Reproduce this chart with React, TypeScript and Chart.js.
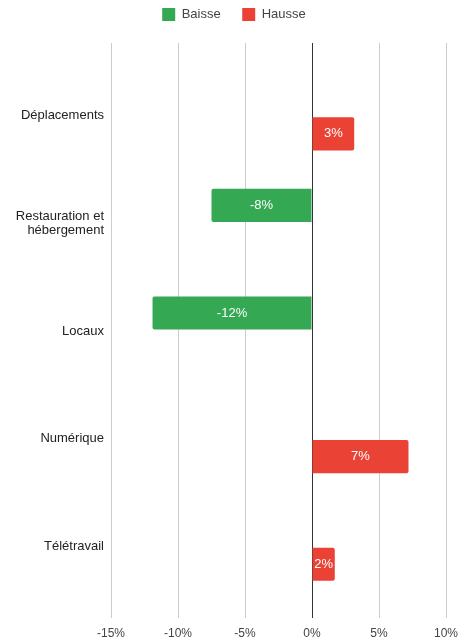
import React, { useEffect, useRef } from "react";
import { Chart, registerables } from "chart.js";

Chart.register(...registerables);

const categories: (string | string[])[] = [
  "Déplacements",
  ["Restauration et", "hébergement"],
  "Locaux",
  "Numérique",
  "Télétravail",
];
const baisse: (number | null)[] = [null, -7.5, -11.9, null, null];
const hausse: (number | null)[] = [3.15, null, null, 7.2, 1.7];
const xTicks = [-15, -10, -5, 0, 5, 10];

const GREEN = "#34a853";
const RED = "#ea4335";
const FONT = "'Liberation Sans', Arial, sans-serif";

const valueLabels = {
  id: "valueLabels",
  afterLayout(chart: any) {
    // widen the label clip area of the y axis so long labels are not cut
    const y = chart.scales.y;
    if (y) y.left = 0;
  },
  afterDatasetsDraw(chart: any) {
    const ctx = chart.ctx;
    ctx.save();
    ctx.font = `13px ${FONT}`;
    ctx.fillStyle = "#ffffff";
    ctx.textAlign = "center";
    ctx.textBaseline = "middle";
    chart.data.datasets.forEach((ds: any, di: number) => {
      const meta = chart.getDatasetMeta(di);
      meta.data.forEach((el: any, i: number) => {
        const v = ds.data[i];
        if (v === null || v === undefined) return;
        const txt = Number(v).toFixed(0) + "%";
        ctx.fillText(txt, (el.x + el.base) / 2, el.y);
      });
    });
    ctx.restore();
  },
};

export default function App() {
  const ref = useRef<HTMLCanvasElement>(null);

  useEffect(() => {
    if (!ref.current) return;
    const gridColor = (c: any) =>
      c.tick && c.tick.value === 0 ? "#333333" : "#cccccc";
    const chart = new Chart(ref.current, {
      type: "bar",
      data: {
        labels: categories,
        datasets: [
          {
            label: "Baisse",
            data: baisse,
            backgroundColor: GREEN,
            borderWidth: 0,
            borderRadius: 2,
            categoryPercentage: 0.67,
            barPercentage: 0.92,
          },
          {
            label: "Hausse",
            data: hausse,
            backgroundColor: RED,
            borderWidth: 0,
            borderRadius: 2,
            categoryPercentage: 0.67,
            barPercentage: 0.92,
          },
        ],
      },
      options: {
        indexAxis: "y",
        responsive: false,
        animation: false,
        layout: { padding: { top: -13.5, left: 22, right: 14, bottom: 0 } },
        plugins: {
          legend: {
            position: "top",
            labels: {
              boxWidth: 13,
              boxHeight: 13,
              padding: 21.5,
              color: "#444444",
              font: { family: FONT, size: 13 },
            },
          },
          tooltip: { enabled: false },
        },
        scales: {
          x: {
            type: "linear",
            position: "bottom",
            min: -15,
            max: 10,
            afterBuildTicks: (s: any) => {
              s.ticks = xTicks.map((v) => ({ value: v }));
            },
            afterFit: (s: any) => {
              s.height = 40;
              s.paddingLeft = 0;
              s.paddingRight = 0;
            },
            grid: {
              color: gridColor,
              lineWidth: 1,
              drawTicks: true,
              tickLength: 18,
            },
            border: { display: false },
            ticks: {
              padding: 8,
              color: "#444444",
              font: { family: FONT, size: 12 },
              callback: (v: any) => v + "%",
            },
          },
          x2: {
            type: "linear",
            position: "top",
            min: -15,
            max: 10,
            afterBuildTicks: (s: any) => {
              s.ticks = xTicks.map((v) => ({ value: v }));
            },
            afterFit: (s: any) => {
              s.height = 31;
              s.paddingLeft = 0;
              s.paddingRight = 0;
            },
            grid: {
              color: gridColor,
              lineWidth: 1,
              drawOnChartArea: false,
              drawTicks: true,
              tickLength: 19,
            },
            border: { display: false },
            ticks: { display: false },
          },
          y: {
            type: "category",
            afterFit: (s: any) => {
              s.width = 89;
            },
            grid: { display: false, drawTicks: false },
            border: { display: false },
            ticks: {
              padding: 7,
              color: "#222222",
              font: { family: FONT, size: 13, lineHeight: 1.1 },
            },
          },
        },
      },
      plugins: [valueLabels],
    } as any);
    return () => chart.destroy();
  }, []);

  return (
    <div style={{ position: "absolute", left: 0, top: 0, width: 460, height: 640 }}>
      <canvas ref={ref} width={460} height={640} style={{ display: "block" }} />
    </div>
  );
}
